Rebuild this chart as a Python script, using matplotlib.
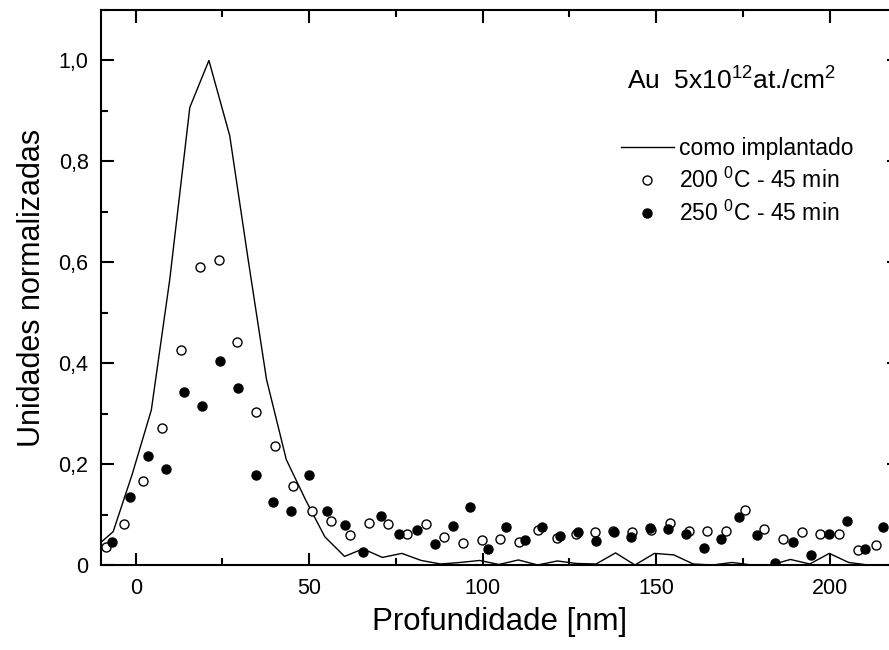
import matplotlib
matplotlib.use("Agg")
import matplotlib.pyplot as plt
from matplotlib.ticker import MultipleLocator, FuncFormatter

plt.rcParams["font.family"] = ["Liberation Sans", "DejaVu Sans"]
plt.rcParams["mathtext.fontset"] = "custom"
plt.rcParams["mathtext.rm"] = "Liberation Sans"
plt.rcParams["mathtext.it"] = "Liberation Sans:italic"
plt.rcParams["mathtext.bf"] = "Liberation Sans:bold"
plt.rcParams["mathtext.default"] = "rm"

# como implantado (line)
depth_impl = [-10.0, -6.5, -1.0, 4.5, 9.8, 15.6, 21.1, 27.1, 32.4, 37.7, 43.4,
              48.9, 54.5, 60.2, 65.5, 71.1, 76.7, 82.3, 87.9, 93.5, 99.1,
              104.7, 110.3, 115.9, 121.5, 127.1, 132.7, 138.3, 143.9, 149.5,
              155.1, 160.7, 166.3, 171.9, 177.5, 183.1, 188.7, 194.3, 199.9,
              205.5, 211.1, 216.7]
conc_impl = [0.045, 0.066, 0.18, 0.307, 0.565, 0.907, 1.0, 0.851, 0.606, 0.368,
             0.209, 0.13, 0.056, 0.017, 0.032, 0.015, 0.023, 0.009, 0.002,
             0.005, 0.009, 0.001, 0.010, 0.0, 0.008, 0.003, 0.002, 0.024, 0.0,
             0.023, 0.020, 0.002, 0.0, 0.005, 0.0, 0.0, 0.011, 0.002, 0.023,
             0.005, 0.0, 0.0]

# 200 C - 45 min (open circles)
depth_200 = [-8.6, -3.3, 2.2, 7.6, 13.0, 18.4, 23.9, 29.3, 34.7, 40.1, 45.4,
             50.9, 56.3, 61.8, 67.1, 72.6, 78.2, 83.6, 89.0, 94.3, 99.7,
             105.1, 110.5, 115.9, 121.4, 126.8, 132.3, 137.6, 143.1, 148.6,
             153.9, 159.4, 164.8, 170.2, 175.6, 181.1, 186.5, 191.9, 197.2,
             202.7, 208.1, 213.4]
conc_200 = [0.036, 0.082, 0.167, 0.271, 0.427, 0.591, 0.604, 0.441, 0.304,
            0.235, 0.156, 0.107, 0.087, 0.060, 0.084, 0.081, 0.062, 0.081,
            0.056, 0.044, 0.050, 0.052, 0.046, 0.070, 0.053, 0.061, 0.066,
            0.068, 0.066, 0.070, 0.084, 0.068, 0.067, 0.067, 0.110, 0.072,
            0.052, 0.066, 0.062, 0.062, 0.029, 0.040]

# 250 C - 45 min (filled circles)
depth_250 = [-6.8, -1.5, 3.6, 8.8, 13.9, 19.1, 24.3, 29.5, 34.7, 39.7, 44.8,
             49.9, 55.1, 60.3, 65.5, 70.7, 75.9, 81.1, 86.3, 91.4, 96.4,
             101.6, 106.8, 112.1, 117.2, 122.4, 127.5, 132.6, 137.9, 142.9,
             148.3, 153.4, 158.5, 163.7, 168.8, 173.9, 179.1, 184.3, 189.4,
             194.5, 199.7, 204.9, 210.1, 215.4]
conc_250 = [0.045, 0.135, 0.217, 0.190, 0.343, 0.316, 0.404, 0.351, 0.179,
            0.125, 0.107, 0.179, 0.107, 0.079, 0.025, 0.097, 0.061, 0.069,
            0.042, 0.078, 0.114, 0.032, 0.076, 0.050, 0.076, 0.058, 0.066,
            0.048, 0.065, 0.055, 0.073, 0.072, 0.062, 0.034, 0.052, 0.096,
            0.059, 0.003, 0.046, 0.019, 0.062, 0.088, 0.032, 0.076]

W, H = 889, 650
fig = plt.figure(figsize=(W / 100, H / 100), dpi=100)
ax = fig.add_axes([101 / W, 85 / H, 798 / W, 555 / H])

ax.plot(depth_impl, conc_impl, color="black", lw=1.0,
        label="como implantado")
ax.plot(depth_200, conc_200, ls="none", marker="o", ms=6.5, mfc="white",
        mec="black", mew=1.0, label="200 $^{0}$C - 45 min")
ax.plot(depth_250, conc_250, ls="none", marker="o", ms=6.5, mfc="black",
        mec="black", mew=1.0, label="250 $^{0}$C - 45 min")

ax.set_xlim(-10, 220)
ax.set_ylim(0, 1.1)

ax.xaxis.set_major_locator(MultipleLocator(50))
ax.xaxis.set_minor_locator(MultipleLocator(25))
ax.yaxis.set_major_locator(MultipleLocator(0.2))
ax.yaxis.set_minor_locator(MultipleLocator(0.1))


def comma_fmt(v, pos):
    if abs(v) < 1e-9:
        return "0"
    return f"{v:.1f}".replace(".", ",")


ax.yaxis.set_major_formatter(FuncFormatter(comma_fmt))

ax.tick_params(which="both", direction="in", top=True, right=True, width=1.5)
ax.tick_params(which="major", length=9, labelsize=15.5)
ax.tick_params(axis="x", which="major", pad=9)
ax.tick_params(axis="y", which="major", pad=9)
ax.tick_params(which="minor", length=4.7)
for sp in ax.spines.values():
    sp.set_linewidth(1.5)

ax.set_xlabel("Profundidade [nm]", fontsize=22.5, labelpad=6)
ax.set_ylabel("Unidades normalizadas", fontsize=22, labelpad=8)

fig.text(627 / W, (H - 90) / H, "Au  5x10$^{12}$at./cm$^{2}$", fontsize=19,
         va="baseline", ha="left")

ax.legend(loc="upper left", bbox_to_anchor=(621 / W, (H - 137) / H),
          bbox_transform=fig.transFigure, frameon=False, fontsize=16.5,
          borderpad=0, borderaxespad=0, handlelength=2.3,
          handletextpad=0.25, labelspacing=0.33, numpoints=1)

fig.savefig("out.png", dpi=100)
